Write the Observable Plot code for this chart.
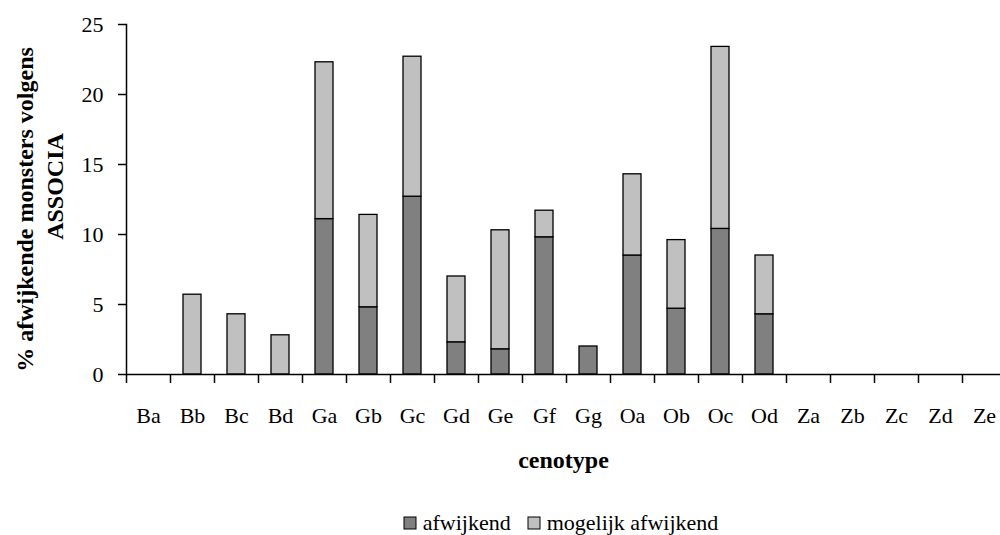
<!DOCTYPE html>
<html><head><meta charset="utf-8">
<script src="https://cdn.jsdelivr.net/npm/d3@7"></script>
<script src="https://cdn.jsdelivr.net/npm/@observablehq/plot@0.6"></script>
<style>
body{margin:0;background:#fff;font-family:"Liberation Serif",serif;}
#chart svg{overflow:visible;display:block;}
#legend{width:1000px;box-sizing:border-box;padding-left:122px;margin-top:10px;}
#legend > div{justify-content:center !important;margin:0 !important;min-height:0 !important;}
#legend span{margin-right:17px !important;}
#legend span:last-child{margin-right:0 !important;}
#legend span svg{margin-right:7px !important;overflow:visible !important;}
#legend span svg rect{stroke:#000;stroke-width:1;}
</style></head><body>
<div id="chart"></div>
<div id="legend"></div>
<script>
const categories = ["Ba","Bb","Bc","Bd","Ga","Gb","Gc","Gd","Ge","Gf","Gg","Oa","Ob","Oc","Od","Za","Zb","Zc","Zd","Ze"];
const afwijkend = [0,0,0,0,11.1,4.8,12.7,2.3,1.8,9.8,2.0,8.5,4.7,10.4,4.3,0,0,0,0,0];
const mogelijkAfwijkend = [0,5.7,4.3,2.8,11.2,6.6,10.0,4.7,8.5,1.9,0,5.8,4.9,13.0,4.2,0,0,0,0,0];
const series = ["afwijkend","mogelijk afwijkend"];
const seriesColors = ["#808080","#c0c0c0"];
const yTicks = [0,5,10,15,20,25];
const xTitle = "cenotype";
const yTitleLine1 = "% afwijkende monsters volgens";
const yTitleLine2 = "ASSOCIA";

const rows = categories.flatMap((c,i)=>[
  {cat:c, series:series[0], value:afwijkend[i]},
  {cat:c, series:series[1], value:mogelijkAfwijkend[i]}
]);

const plot = Plot.plot({
  width:1000, height:500, marginTop:24, marginBottom:126, marginLeft:126, marginRight:0,
  style:{fontFamily:"Liberation Serif", fontSize:"22px", background:"#fff", color:"#000", overflow:"visible"},
  x:{domain:categories, range:[126,1006], padding:0},
  y:{domain:[0,25]},
  color:{domain:series, range:seriesColors},
  marks:[
    Plot.barY(rows.filter(d=>d.value>0), {x:"cat", y:"value", fill:"series", stroke:"#000", strokeWidth:1.3, insetLeft:13, insetRight:13}),
    Plot.ruleY([0], {stroke:"#000", strokeWidth:1.5}),
    Plot.frame({anchor:"left", stroke:"#000", strokeWidth:1.5}),
    Plot.axisY({ticks:yTicks, tickSize:8, tickPadding:15, label:null, strokeWidth:1.5, tickFormat:d=>d}),
    Plot.axisX({tickSize:0, tickPadding:33, label:null}),
    Plot.axisX({tickSize:9, dx:-22, tickFormat:()=>"", label:null, strokeWidth:1.5}),
    Plot.text([xTitle], {frameAnchor:"bottom", dy:86, lineAnchor:"middle", fontWeight:"bold", fontSize:24, text:d=>d}),
    Plot.text([yTitleLine1], {frameAnchor:"left", dx:-101, dy:10, rotate:-90, textAnchor:"middle", lineAnchor:"middle", fontWeight:"bold", fontSize:24, text:d=>d}),
    Plot.text([yTitleLine2], {frameAnchor:"left", dx:-71, dy:-13, rotate:-90, textAnchor:"middle", lineAnchor:"middle", fontWeight:"bold", fontSize:24, text:d=>d})
  ]
});
document.getElementById("chart").appendChild(plot);
const leg = plot.legend("color", {swatchSize:12, style:{fontFamily:"Liberation Serif", fontSize:"22px", color:"#000"}});
document.getElementById("legend").appendChild(leg);
</script>
</body></html>
